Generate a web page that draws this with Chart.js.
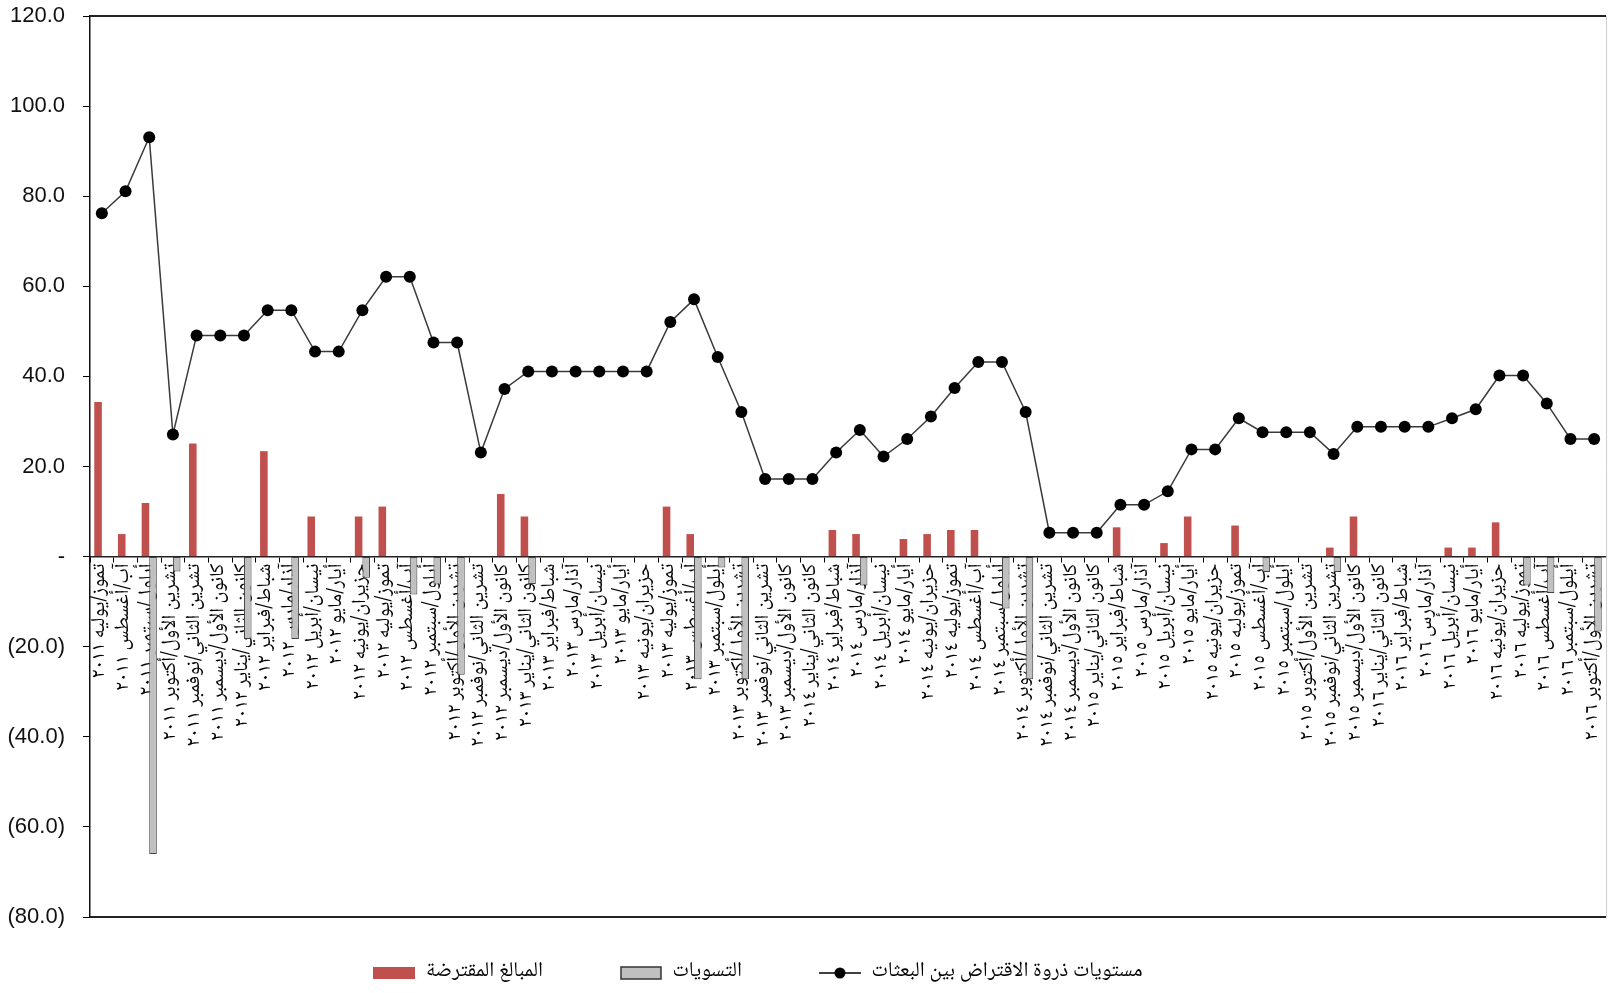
<!DOCTYPE html>
<html lang="ar">
<head>
<meta charset="utf-8">
<title>مستويات ذروة الاقتراض بين البعثات</title>
<script src="https://cdn.jsdelivr.net/npm/chart.js@4.4.1/dist/chart.umd.min.js"></script>
<style>
    html, body { margin: 0; padding: 0; background: #fff; }
    .chart-box { width: 1608px; height: 993px; position: relative; }
</style>
</head>
<body>
<div class="chart-box">
    <canvas id="loansChart"></canvas>
</div>
<script>
// Meses (desde julio de 2011 hasta octubre de 2016)
const MONTH_NAMES = [
    'كانون الثاني/يناير', 'شباط/فبراير', 'آذار/مارس', 'نيسان/أبريل', 'أيار/مايو', 'حزيران/يونيه',
    'تموز/يوليه', 'آب/أغسطس', 'أيلول/سبتمبر', 'تشرين الأول/أكتوبر', 'تشرين الثاني/نوفمبر', 'كانون الأول/ديسمبر'
];
const YEARS = ['٢٠١١', '٢٠١٢', '٢٠١٣', '٢٠١٤', '٢٠١٥', '٢٠١٦'];
const FIRST_MONTH = 6;   // تموز/يوليه
const MONTH_COUNT = 64;  // ... تشرين الأول/أكتوبر ٢٠١٦

const SERIES_NAMES = ['المبالغ المقترضة', 'التسويات', 'مستويات ذروة الاقتراض بين البعثات'];

// Valores
const borrowed = [
    34.3, 5.0, 11.9, null, 25.1, null, null, 23.4, null, 8.9, null, 8.9,
    11.1, null, null, null, null, 13.9, 8.9, null, null, null, null, null,
    11.1, 5.0, null, null, null, null, null, 5.9, 5.0, null, 3.9, 5.0,
    5.9, 5.9, null, null, null, null, null, 6.5, null, 3.0, 8.9, null,
    6.9, null, null, null, 2.0, 8.9, null, null, null, 2.0, 2.0, 7.6,
    null, null, null, null
];
const settlements = [
    null, null, -66.0, -3.3, null, null, -18.3, null, -18.3, null, null, -4.7,
    null, -8.4, -6.2, -26.2, null, null, -6.1, null, null, null, null, null,
    null, -27.2, -2.4, -27.2, null, null, null, null, -6.4, null, null, null,
    null, null, -11.5, -27.2, null, null, null, null, null, null, null, null,
    null, -3.4, null, null, -3.4, null, null, null, null, null, null, null,
    -6.4, -8.1, null, -16.6
];
const peakLevels = [
    76.2, 81.1, 93.1, 27.1, 49.1, 49.1, 49.1, 54.7, 54.7, 45.5, 45.5, 54.7,
    62.1, 62.1, 47.5, 47.5, 23.1, 37.2, 41.1, 41.1, 41.1, 41.1, 41.1, 41.1,
    52.1, 57.1, 44.3, 32.1, 17.2, 17.2, 17.2, 23.1, 28.1, 22.2, 26.1, 31.1,
    37.4, 43.2, 43.2, 32.1, 5.3, 5.3, 5.3, 11.5, 11.5, 14.5, 23.8, 23.8,
    30.7, 27.6, 27.6, 27.6, 22.8, 28.8, 28.8, 28.8, 28.8, 30.7, 32.7, 40.2,
    40.2, 34.0, 26.1, 26.1
];

const Y_MIN = -80;
const Y_MAX = 120;
const Y_STEP = 20;

const COLOR_BORROWED = '#c0504d';
const COLOR_SETTLED = '#c0c0c0';
const COLOR_LINE = '#000000';
const ARABIC_FONT = "'Noto Naskh Arabic', 'Noto Sans Arabic', 'DejaVu Sans', sans-serif";

const LEGEND_PADDING = 77;
const LEGEND_FONT = 21;

function buildLabels() {
    const labels = [];
    for (let i = 0; i < MONTH_COUNT; i++) {
        const m = FIRST_MONTH + i;
        labels.push(MONTH_NAMES[m % 12] + ' ' + YEARS[Math.floor(m / 12)]);
    }
    return labels;
}

function formatAxisValue(value) {
    if (value === 0) return '-';
    if (value < 0) return '(' + Math.abs(value).toFixed(1) + ')';
    return value.toFixed(1);
}

// Símbolos de la leyenda
function legendSwatch(kind) {
    const c = document.createElement('canvas');
    c.width = 42;
    c.height = 14;
    const ctx = c.getContext('2d');
    if (kind === 'line') {
        ctx.strokeStyle = '#000';
        ctx.lineWidth = 1.5;
        ctx.beginPath();
        ctx.moveTo(0, 7);
        ctx.lineTo(42, 7);
        ctx.stroke();
        ctx.fillStyle = '#000';
        ctx.beginPath();
        ctx.arc(21, 7, 5.5, 0, Math.PI * 2);
        ctx.fill();
    } else if (kind === 'settled') {
        ctx.fillStyle = COLOR_SETTLED;
        ctx.fillRect(1, 1, 40, 12);
        ctx.strokeStyle = '#333';
        ctx.lineWidth = 1.5;
        ctx.strokeRect(1, 1, 40, 12);
    } else {
        ctx.fillStyle = COLOR_BORROWED;
        ctx.fillRect(0, 1, 42, 12);
    }
    return c;
}

const swatches = [legendSwatch('borrowed'), legendSwatch('settled'), legendSwatch('line')];

// Marco del área del gráfico y posición de la leyenda
const frameLines = {
    id: 'frameLines',
    afterLayout(chart) {
        const legend = chart.legend;
        const dx = 758 - (legend.left + legend.right) / 2;
        legend.left += dx;
        legend.right += dx;
        legend.top = 973 - LEGEND_PADDING - LEGEND_FONT / 2;
        legend.bottom = chart.height;
    },
    beforeDatasetsDraw(chart) {
        const { ctx, chartArea: a } = chart;
        ctx.save();
        ctx.strokeStyle = '#222';
        ctx.lineWidth = 2;
        ctx.beginPath();
        ctx.moveTo(a.left, a.top);
        ctx.lineTo(a.right, a.top);
        ctx.moveTo(a.left, a.bottom);
        ctx.lineTo(a.right, a.bottom);
        ctx.stroke();
        ctx.strokeStyle = '#cfcfcf';
        ctx.lineWidth = 1;
        ctx.beginPath();
        ctx.moveTo(a.right + 0.5, a.top);
        ctx.lineTo(a.right + 0.5, a.bottom);
        ctx.stroke();
        ctx.restore();
    }
};

const ctx = document.getElementById('loansChart').getContext('2d');
const loansChart = new Chart(ctx, {
    type: 'bar',
    data: {
        labels: buildLabels(),
        datasets: [
            {
                label: SERIES_NAMES[0],
                data: borrowed,
                backgroundColor: COLOR_BORROWED,
                borderWidth: 0,
                order: 1
            },
            {
                label: SERIES_NAMES[1],
                data: settlements,
                backgroundColor: COLOR_SETTLED,
                borderColor: '#404040',
                borderWidth: 1,
                borderSkipped: false,
                order: 1
            },
            {
                type: 'line',
                label: SERIES_NAMES[2],
                data: peakLevels,
                borderColor: '#3a3a3a',
                borderWidth: 1.5,
                pointRadius: 6,
                pointBackgroundColor: COLOR_LINE,
                pointBorderColor: COLOR_LINE,
                pointBorderWidth: 0,
                tension: 0,
                order: 0
            }
        ]
    },
    options: {
        responsive: true,
        maintainAspectRatio: false,
        animation: false,
        datasets: {
            bar: {
                categoryPercentage: 0.64,
                barPercentage: 1.0
            }
        },
        layout: {
            autoPadding: false,
            padding: { top: 16, right: 2, bottom: 16, left: 0 }
        },
        plugins: {
            tooltip: { enabled: false },
            legend: {
                position: 'bottom',
                maxHeight: 60,
                labels: {
                    usePointStyle: true,
                    pointStyleWidth: 42,
                    padding: LEGEND_PADDING,
                    color: '#000',
                    font: { family: ARABIC_FONT, size: LEGEND_FONT },
                    sort: (a, b) => a.datasetIndex - b.datasetIndex,
                    generateLabels: (chart) => {
                        const items = Chart.defaults.plugins.legend.labels.generateLabels(chart);
                        items.forEach(item => {
                            item.pointStyle = swatches[item.datasetIndex];
                        });
                        return items;
                    }
                }
            }
        },
        scales: {
            x: {
                position: { y: 0 },
                z: 1,
                afterFit: (scale) => {
                    scale.paddingLeft = 0;
                    scale.paddingRight = 0;
                },
                grid: {
                    drawOnChartArea: false,
                    drawTicks: true,
                    tickLength: 5,
                    color: '#000',
                    offset: true
                },
                border: { display: true, color: '#222', width: 1.5 },
                ticks: {
                    autoSkip: false,
                    maxRotation: 90,
                    minRotation: 90,
                    padding: 2,
                    color: '#000',
                    font: { family: ARABIC_FONT, size: 20 }
                }
            },
            y: {
                min: Y_MIN,
                max: Y_MAX,
                afterFit: (scale) => {
                    scale.width = 90;
                    scale.paddingTop = 0;
                    scale.paddingBottom = 0;
                },
                grid: {
                    drawOnChartArea: false,
                    tickLength: 7,
                    color: '#000'
                },
                border: { display: true, color: '#111', width: 1.5 },
                ticks: {
                    stepSize: Y_STEP,
                    padding: 18,
                    color: '#111',
                    font: { family: "'Liberation Sans', Arial, sans-serif", size: 22 },
                    callback: (value) => formatAxisValue(value)
                }
            }
        }
    },
    plugins: [frameLines]
});
</script>
</body>
</html>
